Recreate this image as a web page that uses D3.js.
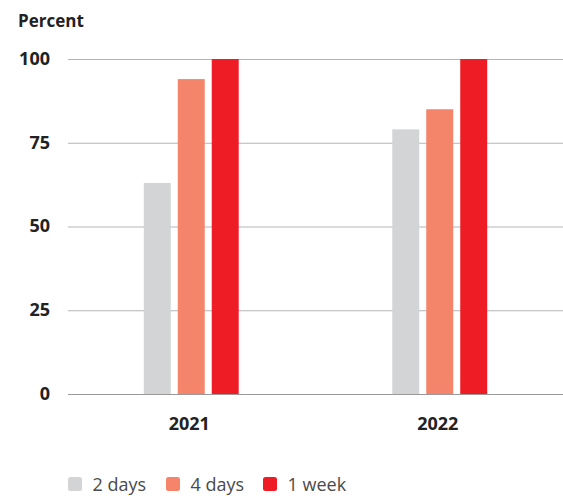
<!DOCTYPE html>
<html><head><meta charset="utf-8">
<script src="https://cdn.jsdelivr.net/npm/d3@7"></script>
<style>body{margin:0;background:#fff}svg{display:block;font-family:"Open Sans",Lato,sans-serif}</style>
</head><body>
<svg id="c" width="563" height="496"></svg>
<script>
const categories = ["2021", "2022"];
const seriesNames = ["2 days", "4 days", "1 week"];
const twoDays = [63, 79];
const fourDays = [94, 85];
const oneWeek = [100, 100];
const yTicks = [0, 25, 50, 75, 100];
const colors = ["#d3d4d6", "#f4846a", "#ee1c25"];

(function () {
const series = [twoDays, fourDays, oneWeek];
const svg = d3.select("#c");
const mLeft = 68, mRight = 563, mTop = 59, mBottom = 394;
const FONT = "'Open Sans', sans-serif";

const x0 = d3.scaleBand().domain(categories).range([mLeft, mRight]).paddingInner(0.618).paddingOuter(0.305);
const x1 = d3.scaleBand().domain(seriesNames).range([0, x0.bandwidth()]).paddingInner(0.206).paddingOuter(0);
const y = d3.scaleLinear().domain([0, 100]).range([mBottom, mTop]);

const yAxis = d3.axisLeft(y).tickValues(yTicks).tickSize(0).tickPadding(18);
const ga = svg.append("g").attr("transform", `translate(${mLeft},0)`).call(yAxis);
ga.select(".domain").remove();
ga.selectAll("text").attr("font-size", 18).attr("font-weight", "bold").attr("fill", "#222").attr("font-family", FONT).attr("dy", "0.3em");

svg.append("g").selectAll("line").data(yTicks).join("line")
  .attr("x1", mLeft).attr("x2", mRight)
  .attr("y1", d => y(d) + 0.5).attr("y2", d => y(d) + 0.5)
  .attr("stroke", d => d === 0 ? "#999" : "#b5b5b5").attr("stroke-width", 1);

const groups = svg.append("g").selectAll("g").data(categories).join("g")
  .attr("transform", d => `translate(${x0(d)},0)`);
groups.selectAll("rect").data((c, i) => seriesNames.map((s, j) => ({s, j, v: series[j][i]})))
  .join("rect")
  .attr("x", d => x1(d.s)).attr("width", x1.bandwidth())
  .attr("y", d => y(d.v)).attr("height", d => y(0) - y(d.v))
  .attr("fill", d => colors[d.j]);

const xAxis = d3.axisBottom(x0).tickSize(0).tickPadding(0);
const gx = svg.append("g").attr("transform", `translate(0,${mBottom})`).call(xAxis);
gx.select(".domain").remove();
gx.selectAll("text").attr("y", 36).attr("dy", null).attr("dx", -2)
  .attr("font-size", 18).attr("font-weight", "bold").attr("fill", "#222").attr("font-family", FONT);

svg.append("text").attr("x", 18).attr("y", 27).text("Percent")
  .attr("font-size", 17).attr("font-weight", "bold").attr("fill", "#222");

const legendX = [68, 166, 263];
const lg = svg.append("g").selectAll("g").data(seriesNames).join("g")
  .attr("transform", (d, i) => `translate(${legendX[i]},477)`);
lg.append("rect").attr("width", 14).attr("height", 14).attr("rx", 2.5).attr("fill", (d, i) => colors[i]);
lg.append("text").attr("x", 24.5).attr("y", 14).text(d => d)
  .attr("font-size", 18).attr("fill", "#4a4a4a");
})();
</script>
</body></html>
